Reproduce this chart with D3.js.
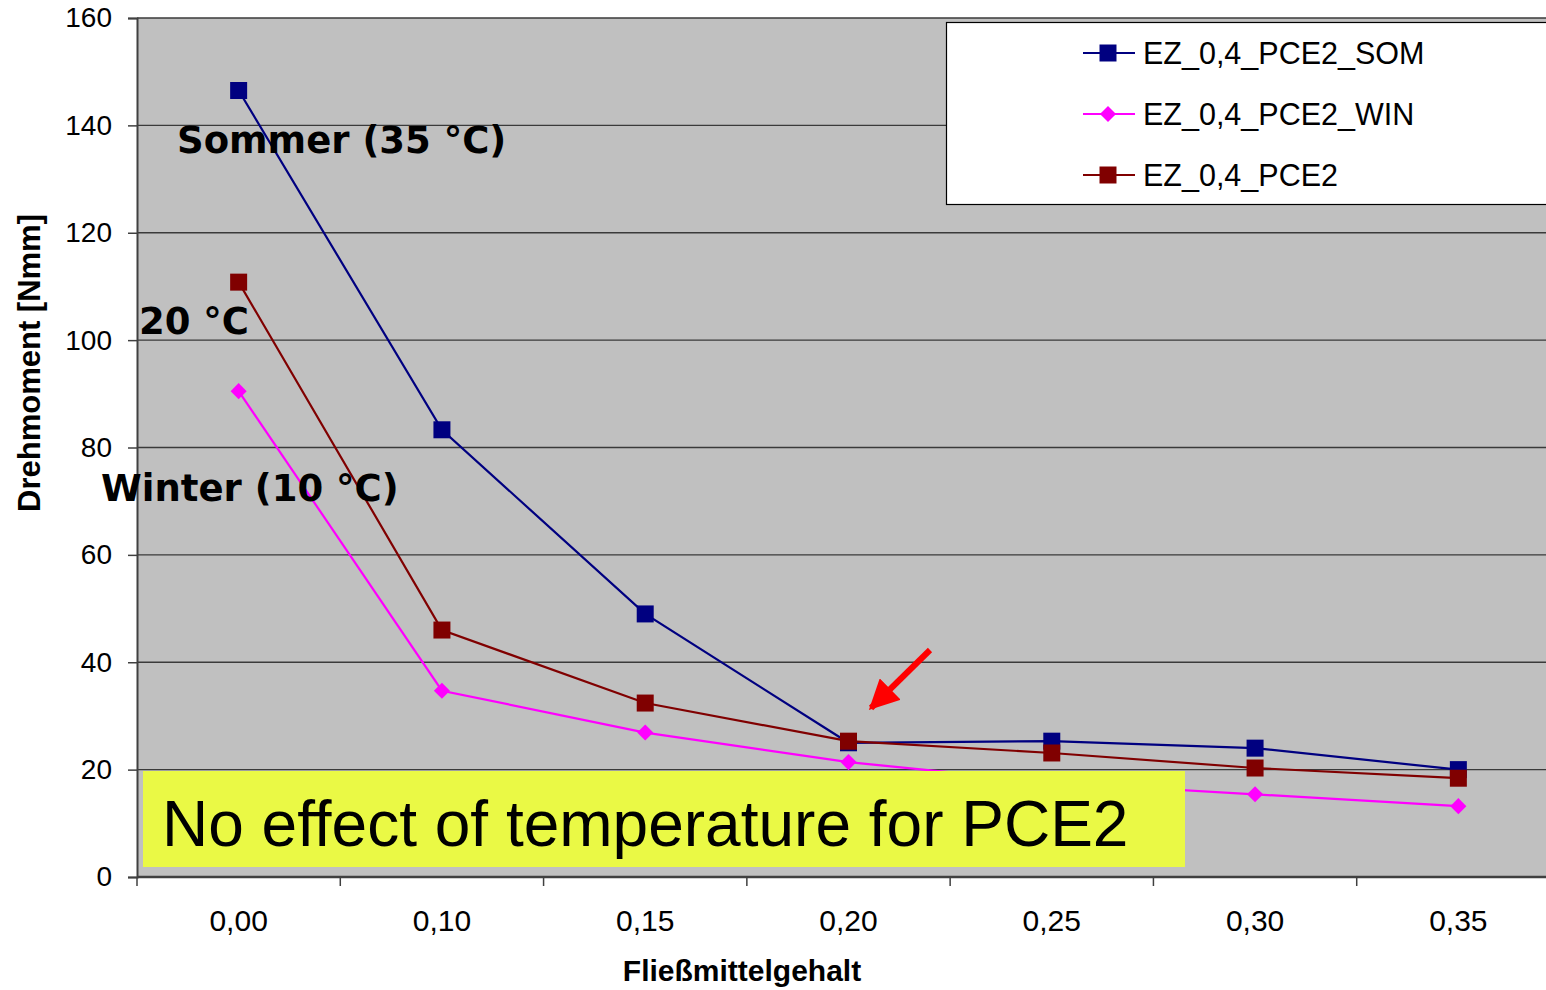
<!DOCTYPE html>
<html>
<head>
<meta charset="utf-8">
<script src="https://cdn.jsdelivr.net/npm/d3@7"></script>
<style>
  html, body { margin: 0; padding: 0; background: #ffffff; }
  svg { display: block; }
</style>
</head>
<body>
<svg id="chart" width="1546" height="990"></svg>
<script>
// Fließmittelgehalt categories and torque readings (Nmm)
const categories = ["0,00", "0,10", "0,15", "0,20", "0,25", "0,30", "0,35"];
const somValues  = [146.5, 83.3, 49.0, 25.0, 25.3, 24.0, 20.0];
const winValues  = [90.5, 34.7, 26.9, 21.4, 17.6, 15.4, 13.2];
const pceValues  = [110.8, 46.0, 32.4, 25.3, 23.1, 20.3, 18.4];
const yTicks = [0, 20, 40, 60, 80, 100, 120, 140, 160];
const seriesNames = ["EZ_0,4_PCE2_SOM", "EZ_0,4_PCE2_WIN", "EZ_0,4_PCE2"];

const series = [
  { name: seriesNames[0], values: somValues, color: "#000080", marker: "square" },
  { name: seriesNames[1], values: winValues, color: "#ff00ff", marker: "diamond" },
  { name: seriesNames[2], values: pceValues, color: "#800000", marker: "square" }
];

const svg = d3.select("#chart");
const plot = { left: 137, top: 18, right: 1560, bottom: 877 };
const sans = "Liberation Sans, Arial, sans-serif";

const x = d3.scaleBand().domain(categories).range([plot.left, plot.right]).padding(0);
const y = d3.scaleLinear().domain([0, 160]).range([plot.bottom, plot.top]);
const cx = c => x(c) + x.bandwidth() / 2;

// plot background
svg.append("rect")
  .attr("x", plot.left).attr("y", plot.top)
  .attr("width", plot.right - plot.left).attr("height", plot.bottom - plot.top)
  .attr("fill", "#c0c0c0");

// horizontal gridlines
svg.append("g").selectAll("line").data(yTicks.filter(t => t > 0)).join("line")
  .attr("x1", plot.left).attr("x2", plot.right)
  .attr("y1", d => y(d)).attr("y2", d => y(d))
  .attr("stroke", "#3a3a3a").attr("stroke-width", 1.3);

// y axis
const yAxis = svg.append("g")
  .attr("transform", `translate(${plot.left},0)`)
  .call(d3.axisLeft(y).tickValues(yTicks).tickSize(9).tickPadding(16).tickFormat(d3.format("d")));
yAxis.select(".domain").attr("stroke", "#404040").attr("stroke-width", 2);
yAxis.selectAll(".tick line").attr("stroke", "#404040").attr("stroke-width", 1.5);
yAxis.selectAll("text")
  .attr("font-family", sans)
  .attr("font-size", 28).attr("fill", "#000");

// x axis with ticks at category boundaries
const xAxisG = svg.append("g");
xAxisG.append("line")
  .attr("x1", plot.left).attr("x2", plot.right)
  .attr("y1", plot.bottom).attr("y2", plot.bottom)
  .attr("stroke", "#404040").attr("stroke-width", 2.5);
const boundaries = categories.map(c => x(c)).concat([x(categories[categories.length - 1]) + x.bandwidth()]);
xAxisG.selectAll("line.tick").data(boundaries).join("line")
  .attr("class", "tick")
  .attr("x1", d => d).attr("x2", d => d)
  .attr("y1", plot.bottom).attr("y2", plot.bottom + 9)
  .attr("stroke", "#404040").attr("stroke-width", 1.5);
xAxisG.selectAll("text").data(categories).join("text")
  .attr("x", d => cx(d)).attr("y", 931)
  .attr("text-anchor", "middle")
  .attr("font-family", sans)
  .attr("font-size", 30).attr("fill", "#000")
  .text(d => d);

// axis titles
svg.append("text")
  .attr("transform", "translate(40,363) rotate(-90)")
  .attr("text-anchor", "middle")
  .attr("font-family", sans)
  .attr("font-weight", "bold").attr("font-size", 31)
  .text("Drehmoment [Nmm]");
svg.append("text")
  .attr("x", 742).attr("y", 981)
  .attr("text-anchor", "middle")
  .attr("font-family", sans)
  .attr("font-weight", "bold").attr("font-size", 30)
  .text("Fließmittelgehalt");

// series lines and markers
const line = d3.line().x((d, i) => cx(categories[i])).y(d => y(d));
const squareSym = d3.symbol().type(d3.symbolSquare).size(17 * 17);
const diamondSym = d3.symbol().type(d3.symbolDiamond2).size(165);

function drawMarker(g, type, color) {
  g.append("path")
    .attr("d", type === "square" ? squareSym() : diamondSym())
    .attr("fill", color);
}

series.forEach(s => {
  const g = svg.append("g");
  g.append("path").datum(s.values)
    .attr("d", line)
    .attr("fill", "none").attr("stroke", s.color).attr("stroke-width", 2.2);
  s.values.forEach((v, i) => {
    const m = g.append("g").attr("transform", `translate(${cx(categories[i])},${y(v)})`);
    drawMarker(m, s.marker, s.color);
  });
});

// temperature annotations
const annFont = "DejaVu Sans, Verdana, sans-serif";
[["Sommer (35 °C)", 177, 153], ["20 °C", 139, 334], ["Winter (10 °C)", 101, 501]].forEach(([t, tx, ty]) => {
  svg.append("text")
    .attr("x", tx).attr("y", ty)
    .attr("font-family", annFont).attr("font-weight", "bold").attr("font-size", 37)
    .attr("fill", "#000")
    .text(t);
});

// red arrow pointing at the 0,20 crossing
const defs = svg.append("defs");
defs.append("marker")
  .attr("id", "arrowhead").attr("viewBox", "0 0 10 10")
  .attr("refX", 9).attr("refY", 5)
  .attr("markerWidth", 5).attr("markerHeight", 5)
  .attr("markerUnits", "strokeWidth")
  .attr("orient", "auto")
  .append("path").attr("d", "M0,0 L10,5 L0,10 Z").attr("fill", "#ff0000");
svg.append("line")
  .attr("x1", 930).attr("y1", 650).attr("x2", 871).attr("y2", 708)
  .attr("stroke", "#ff0000").attr("stroke-width", 6)
  .attr("marker-end", "url(#arrowhead)");

// highlighted statement box
svg.append("rect")
  .attr("x", 143).attr("y", 771).attr("width", 1042).attr("height", 96)
  .attr("fill", "#eaf945");
svg.append("text")
  .attr("x", 162).attr("y", 846)
  .attr("font-family", sans)
  .attr("font-size", 64).attr("fill", "#000")
  .text("No effect of temperature for PCE2");

// legend
const legend = svg.append("g");
legend.append("rect")
  .attr("x", 946.5).attr("y", 22.5).attr("width", 640).attr("height", 182)
  .attr("fill", "#ffffff").attr("stroke", "#000").attr("stroke-width", 1.2);
series.forEach((s, i) => {
  const ly = 53 + i * 61;
  legend.append("line")
    .attr("x1", 1083).attr("x2", 1135).attr("y1", ly).attr("y2", ly)
    .attr("stroke", s.color).attr("stroke-width", 2.2);
  const m = legend.append("g").attr("transform", `translate(1108,${ly})`);
  drawMarker(m, s.marker, s.color);
  legend.append("text")
    .attr("x", 1143).attr("y", ly + 11)
    .attr("font-family", sans)
    .attr("font-size", 30.5).attr("fill", "#000")
    .text(s.name);
});
</script>
</body>
</html>
